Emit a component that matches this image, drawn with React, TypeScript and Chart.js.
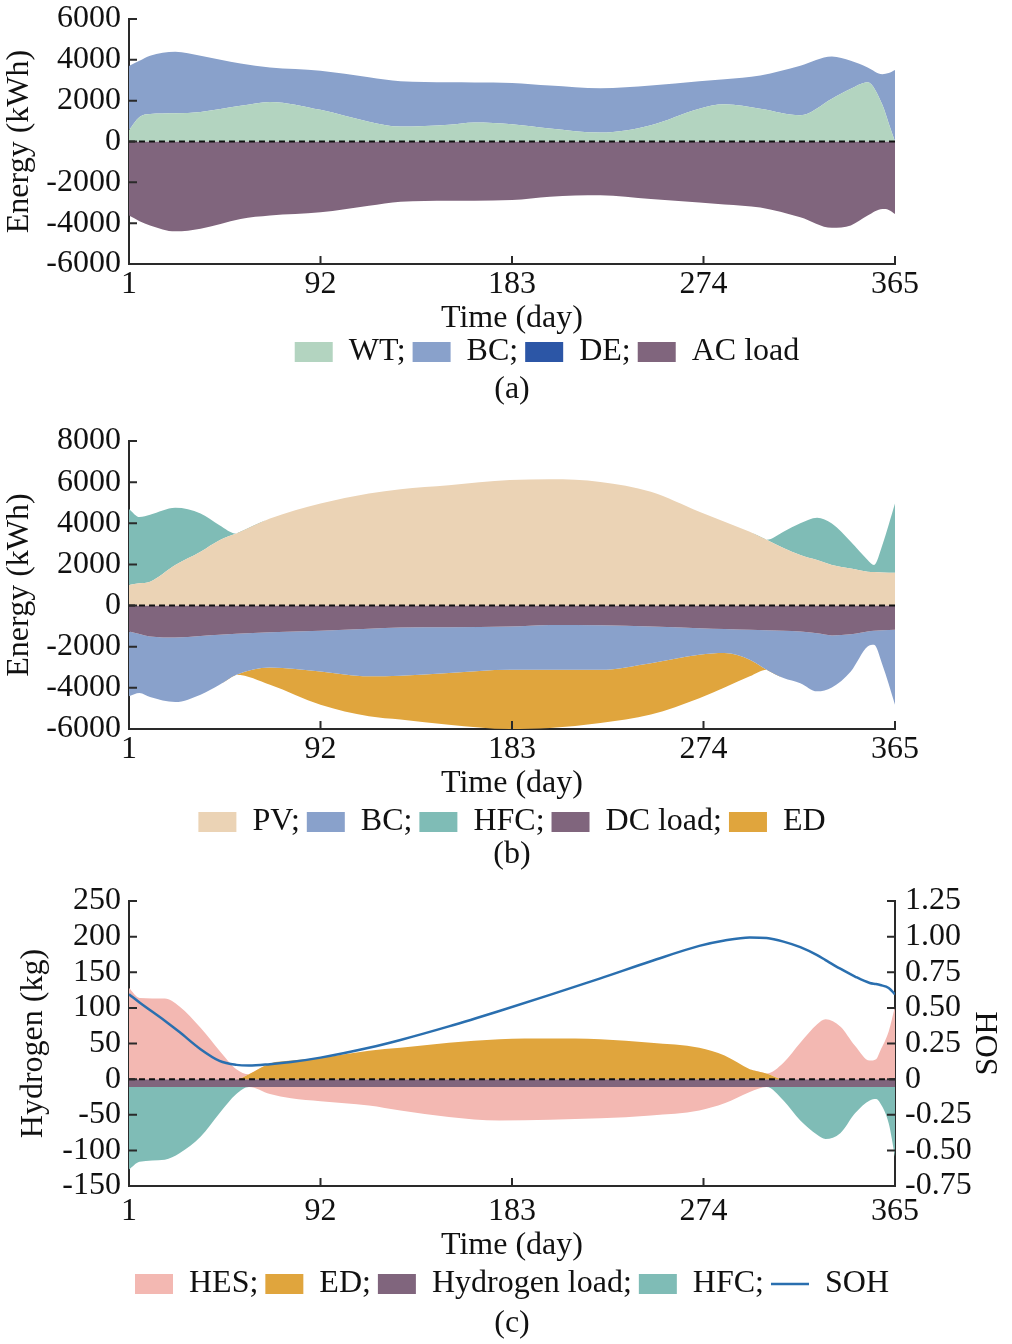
import React, { useEffect, useRef } from "react";
import { Chart, registerables } from "chart.js";

Chart.register(...registerables);

const FONT = '"Liberation Serif", "Times New Roman", serif';
const INK = "#111111";
const AXIS = "#2a2a2a";
Chart.defaults.font.family = FONT;
Chart.defaults.font.size = 32;
Chart.defaults.font.lineHeight = 1;
Chart.defaults.color = INK;

const X_TICKS = [1, 92, 183, 274, 365];

// (a) AC side
const DAYS_A = [1, 6, 11, 23, 35, 54, 68, 92, 115, 130, 153, 165, 183, 201, 225, 249, 272, 284, 301, 320, 335, 344, 352, 359, 362, 365];
const WT = [550, 1200, 1350, 1380, 1450, 1750, 1940, 1550, 970, 730, 820, 930, 850, 640, 440, 800, 1610, 1820, 1610, 1290, 2100, 2580, 2900, 1800, 900, 0];
const BC_A = [3150, 2750, 2850, 3010, 2750, 2070, 1690, 1920, 2180, 2220, 2080, 1960, 2020, 2100, 2170, 1940, 1340, 1230, 1620, 2420, 2060, 1370, 730, 1500, 2450, 3500];
const DE = [0, 0, 0, 0, 0, 0, 0, 0, 0, 0, 0, 0, 0, 0, 0, 0, 0, 0, 0, 0, 0, 0, 0, 0, 0, 0];
const AC_LOAD = [-3630, -3900, -4110, -4400, -4270, -3790, -3630, -3470, -3150, -2950, -2900, -2900, -2870, -2700, -2630, -2820, -2990, -3080, -3230, -3710, -4230, -4110, -3630, -3310, -3350, -3550];

// (b) DC side
const DAYS_B = [1, 6, 11, 23, 35, 44, 52, 68, 92, 115, 130, 153, 182, 201, 225, 249, 272, 284, 296, 304, 312, 320, 328, 335, 344, 352, 355, 359, 365];
const PV = [1000, 1080, 1160, 1970, 2620, 3180, 3500, 4230, 4960, 5450, 5660, 5850, 6100, 6140, 6010, 5530, 4560, 4080, 3590, 3200, 2800, 2460, 2210, 1970, 1800, 1650, 1630, 1610, 1600];
const HFC_B = [3700, 3220, 3250, 2780, 1860, 730, 0, 0, 0, 0, 0, 0, 0, 0, 0, 0, 0, 0, 0, 0, 790, 1540, 2060, 2020, 1300, 570, 340, 1330, 3360];
const DC_LOAD = [-1260, -1380, -1500, -1550, -1480, -1420, -1370, -1300, -1230, -1130, -1070, -1050, -1020, -940, -960, -1020, -1100, -1140, -1180, -1200, -1230, -1260, -1350, -1450, -1400, -1260, -1220, -1200, -1180];
const BC_B = [-3150, -2870, -2950, -3140, -2850, -2430, -1990, -1710, -1970, -2310, -2340, -2230, -2100, -2180, -2160, -1780, -1290, -1170, -1450, -1920, -2290, -2510, -2820, -2530, -1800, -730, -690, -1680, -3640];
const ED_B = [0, 0, 0, 0, 0, 0, 0, -840, -1620, -1940, -2130, -2510, -2880, -2830, -2590, -2500, -2110, -1670, -810, 0, 0, 0, 0, 0, 0, 0, 0, 0, 0];

// (c) hydrogen side
const DAYS_C = [1, 6, 18, 25, 35, 44, 52, 58, 68, 78, 92, 115, 130, 153, 177, 201, 225, 249, 272, 284, 296, 304, 312, 320, 328, 332, 339, 346, 353, 356, 358, 362, 365];
const HES = [128, 114, 113, 102, 72, 40, 14, 0, -10, -16, -20, -26, -33, -42, -47, -46, -44, -40, -33, -23, -7, 0, 23, 51, 77, 84, 74, 47, 26, 28, 40, 67, 102];
const ED_C = [0, 0, 0, 0, 0, 0, 0, 7, 22, 26, 30, 40, 44, 51, 56, 57, 56, 51, 44, 33, 14, 8, 0, 0, 0, 0, 0, 0, 0, 0, 0, 0, 0];
const H_LOAD = [-11, -11, -11, -11, -11, -11, -11, -11, -11, -11, -11, -11, -11, -11, -11, -11, -11, -11, -11, -11, -11, -11, -11, -11, -11, -11, -11, -11, -11, -11, -11, -11, -11];
const HFC_C = [-116, -105, -102, -93, -70, -37, -10, 0, 0, 0, 0, 0, 0, 0, 0, 0, 0, 0, 0, 0, 0, 0, -19, -47, -67, -73, -65, -37, -19, -17, -23, -51, -98];
const SOH = [0.595, 0.538, 0.41, 0.33, 0.21, 0.128, 0.1, 0.095, 0.105, 0.12, 0.151, 0.22, 0.275, 0.37, 0.478, 0.591, 0.707, 0.827, 0.935, 0.973, 0.994, 0.99, 0.965, 0.926, 0.87, 0.835, 0.775, 0.72, 0.675, 0.667, 0.66, 0.64, 0.595];

const C = {
  wt: "#b3d4c0",
  bc: "#89a1cb",
  de: "#2c56a6",
  load: "#80657d",
  pv: "#ebd3b5",
  hfc: "#7fbcb6",
  ed: "#e0a53d",
  hes: "#f3b8b2",
  soh: "#2a6faf",
};

const pts = (days: number[], vals: number[]) => days.map((d, i) => ({ x: d, y: vals[i] }));

const band = (label: string, days: number[], vals: number[], color: string, stack: string, fill: any) => ({
  label,
  data: pts(days, vals),
  backgroundColor: color,
  borderColor: color,
  borderWidth: 0,
  pointRadius: 0,
  fill,
  stack,
  cubicInterpolationMode: "monotone",
  yAxisID: "y",
});

// dashed zero line, inward tick marks, right-hand title
const axisDecor = {
  id: "axisDecor",
  afterDatasetsDraw(chart: any, _args: any, opts: any) {
    const { ctx, chartArea: a, scales } = chart;
    const y0 = scales.y.getPixelForValue(0);
    ctx.save();
    ctx.strokeStyle = "#111";
    ctx.lineWidth = 2;
    ctx.setLineDash([6, 4]);
    ctx.beginPath();
    ctx.moveTo(a.left, y0);
    ctx.lineTo(a.right, y0);
    ctx.stroke();
    ctx.setLineDash([]);
    ctx.strokeStyle = AXIS;
    ctx.beginPath();
    scales.y.ticks.forEach((t: any) => {
      const p = scales.y.getPixelForValue(t.value);
      ctx.moveTo(a.left, p);
      ctx.lineTo(a.left + 8, p);
    });
    scales.x.ticks.forEach((t: any) => {
      const p = scales.x.getPixelForValue(t.value);
      ctx.moveTo(p, a.bottom);
      ctx.lineTo(p, a.bottom - 8);
    });
    if (scales.y1) {
      scales.y1.ticks.forEach((t: any) => {
        const p = scales.y1.getPixelForValue(t.value);
        ctx.moveTo(a.right, p);
        ctx.lineTo(a.right - 8, p);
      });
    }
    ctx.stroke();
    if (opts.rightTitle) {
      ctx.translate(opts.rightTitleX, (a.top + a.bottom) / 2);
      ctx.rotate(-Math.PI / 2);
      ctx.font = "32px " + FONT;
      ctx.fillStyle = INK;
      ctx.textAlign = "center";
      ctx.textBaseline = "middle";
      ctx.fillText(opts.rightTitle, 0, 0);
    }
    ctx.restore();
  },
};

const legendShift = {
  id: "legendShift",
  afterLayout(chart: any, _args: any, opts: any) {
    const lg = chart.legend;
    if (lg && opts.dx) {
      lg.left += opts.dx;
      lg.right += opts.dx;
    }
  },
};

const makeOptions = (cfg: any) => {
  const scales: any = {
    x: {
      type: "linear",
      min: 1,
      max: 365,
      afterBuildTicks: (s: any) => {
        s.ticks = X_TICKS.map((v) => ({ value: v }));
      },
      ticks: { padding: cfg.tickPad, maxRotation: 0, autoSkip: false, color: INK, callback: (v: any) => String(v) },
      grid: { display: false, drawTicks: false },
      border: { display: true, color: AXIS, width: 2 },
      title: { display: true, text: "Time (day)", color: INK, padding: { top: cfg.xtTop, bottom: cfg.xtBottom } },
    },
    y: {
      stacked: true,
      min: cfg.yMin,
      max: cfg.yMax,
      afterFit: (s: any) => {
        s.width = 129;
      },
      ticks: { stepSize: cfg.yStep, padding: 8, color: INK, callback: (v: any) => String(v) },
      grid: { display: false, drawTicks: false },
      border: { display: true, color: AXIS, width: 2 },
      title: { display: true, text: cfg.yTitle, color: INK, padding: { top: cfg.yTitlePad, bottom: 0 } },
    },
  };
  if (cfg.y1) {
    scales.y1 = {
      position: "right",
      min: -0.75,
      max: 1.25,
      afterFit: (s: any) => {
        s.width = 117;
      },
      ticks: {
        stepSize: 0.25,
        padding: 10,
        color: INK,
        callback: (v: any) => (Math.abs(v) < 1e-9 ? "0" : Number(v).toFixed(2)),
      },
      grid: { display: false, drawTicks: false },
      border: { display: true, color: AXIS, width: 2 },
    };
  }
  return {
    animation: false,
    responsive: true,
    maintainAspectRatio: false,
    events: [],
    layout: { padding: { top: cfg.padTop, right: cfg.y1 ? 0 : 117, bottom: 0, left: 0 } },
    plugins: {
      tooltip: { enabled: false },
      legend: {
        position: "bottom",
        fullSize: !!cfg.y1,
        labels: {
          boxWidth: 38,
          boxHeight: 20,
          padding: 7,
          usePointStyle: true,
          pointStyleWidth: 38,
          color: INK,
          font: { size: 32, family: FONT, lineHeight: 1 },
          generateLabels: () =>
            cfg.legend.map(([text, color, line]: any) => ({
              text,
              fillStyle: line ? "rgba(0,0,0,0)" : color,
              strokeStyle: color,
              lineWidth: line ? 2.5 : 0,
              pointStyle: line ? "line" : "rect",
              hidden: false,
              fontColor: INK,
            })),
        },
      },
      title: {
        display: true,
        fullSize: false,
        text: cfg.caption,
        position: "bottom",
        color: INK,
        font: { size: 32, weight: "normal", lineHeight: 1 },
        padding: { top: cfg.captionPad, bottom: 4 },
      },
      axisDecor: { rightTitle: cfg.rightTitle, rightTitleX: 989 },
      legendShift: { dx: cfg.legendDx || 0 },
    },
    scales,
  };
};

const buildA = () => ({
  type: "line",
  data: {
    datasets: [
      band("WT", DAYS_A, WT, C.wt, "pos", "origin"),
      band("BC", DAYS_A, BC_A, C.bc, "pos", "-1"),
      band("DE", DAYS_A, DE, C.de, "pos", "-1"),
      band("AC load", DAYS_A, AC_LOAD, C.load, "neg", "origin"),
    ],
  },
  options: makeOptions({
    padTop: 17,
    tickPad: 5,
    xtTop: -3,
    xtBottom: -6,
    captionPad: -4,
    yMin: -6000,
    yMax: 6000,
    yStep: 2000,
    yTitle: "Energy (kWh)",
    yTitlePad: 4,
    caption: "(a)",
    legendDx: 35,
    legend: [
      ["WT;", C.wt],
      ["BC;", C.bc],
      ["DE;", C.de],
      ["AC load", C.load],
    ],
  }),
  plugins: [axisDecor, legendShift],
});

const buildB = () => ({
  type: "line",
  data: {
    datasets: [
      band("PV", DAYS_B, PV, C.pv, "pos", "origin"),
      band("HFC", DAYS_B, HFC_B, C.hfc, "pos", "-1"),
      band("DC load", DAYS_B, DC_LOAD, C.load, "neg", "origin"),
      band("BC", DAYS_B, BC_B, C.bc, "neg", "-1"),
      band("ED", DAYS_B, ED_B, C.ed, "neg", "-1"),
    ],
  },
  options: makeOptions({
    padTop: 31,
    tickPad: 5,
    xtTop: -3,
    xtBottom: -1,
    captionPad: -9,
    yMin: -6000,
    yMax: 8000,
    yStep: 2000,
    yTitle: "Energy (kWh)",
    yTitlePad: 4,
    caption: "(b)",
    legend: [
      ["PV;", C.pv],
      ["BC;", C.bc],
      ["HFC;", C.hfc],
      ["DC load;", C.load],
      ["ED", C.ed],
    ],
  }),
  plugins: [axisDecor, legendShift],
});

const buildC = () => ({
  type: "line",
  data: {
    datasets: [
      band("ED", DAYS_C, ED_C, C.ed, "pos", "origin"),
      band("HES", DAYS_C, HES.map((v) => Math.max(v, 0)), C.hes, "pos", "-1"),
      band("Hydrogen load", DAYS_C, H_LOAD, C.load, "neg", "origin"),
      band("HES-", DAYS_C, HES.map((v) => Math.min(v, 0)), C.hes, "neg", "-1"),
      band("HFC", DAYS_C, HFC_C, C.hfc, "neg", "-1"),
      {
        label: "SOH",
        data: pts(DAYS_C, SOH),
        yAxisID: "y1",
        order: -1,
        borderColor: C.soh,
        backgroundColor: C.soh,
        borderWidth: 2.5,
        pointRadius: 0,
        fill: false,
        cubicInterpolationMode: "monotone",
      },
    ],
  },
  options: makeOptions({
    padTop: 23,
    tickPad: 10,
    xtTop: -8,
    xtBottom: -1,
    captionPad: -2,
    yMin: -150,
    yMax: 250,
    yStep: 50,
    yTitle: "Hydrogen (kg)",
    yTitlePad: 18,
    y1: true,
    rightTitle: "SOH",
    caption: "(c)",
    legendDx: 6,
    legend: [
      ["HES;", C.hes],
      ["ED;", C.ed],
      ["Hydrogen load;", C.load],
      ["HFC;", C.hfc],
      ["SOH", C.soh, true],
    ],
  }),
  plugins: [axisDecor, legendShift],
});

function Panel({ top, height, build }: { top: number; height: number; build: () => any }) {
  const canvasRef = useRef<HTMLCanvasElement>(null);
  useEffect(() => {
    const chart = new Chart(canvasRef.current as HTMLCanvasElement, build());
    return () => chart.destroy();
  }, [build]);
  return (
    <div style={{ position: "absolute", left: 0, top, width: 1012, height }}>
      <canvas ref={canvasRef} />
    </div>
  );
}

export default function App() {
  return (
    <div style={{ position: "absolute", left: 0, top: 0, width: 1012, height: 1344, background: "#fff", overflow: "hidden" }}>
      <Panel top={-5} height={415} build={buildA} />
      <Panel top={410} height={465} build={buildB} />
      <Panel top={875} height={469} build={buildC} />
    </div>
  );
}
